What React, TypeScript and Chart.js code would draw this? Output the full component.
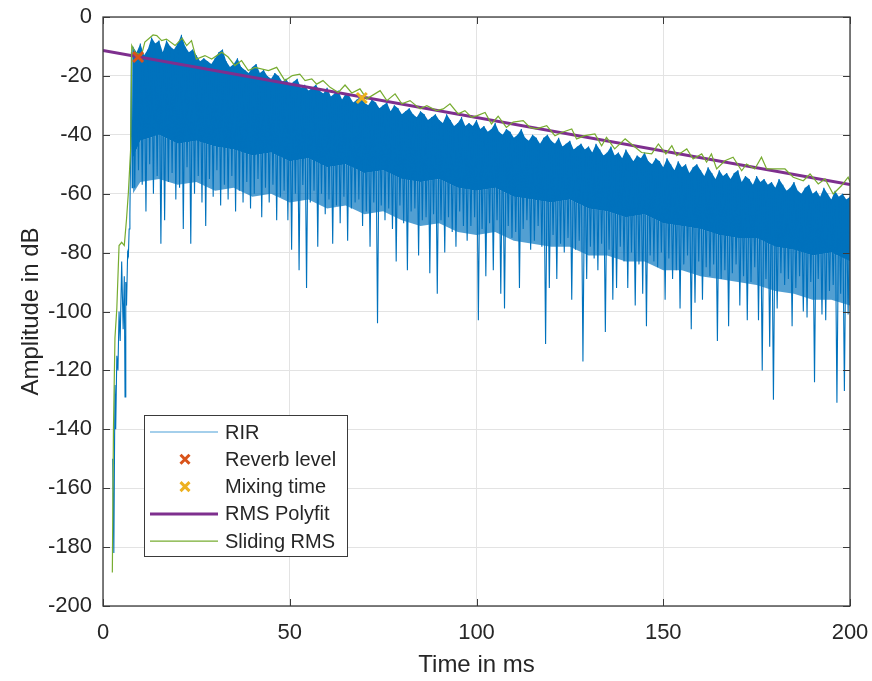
import React, { useEffect, useRef } from "react";
import { Chart, registerables } from "chart.js";

Chart.register(...registerables);

// ---------- axes ----------
const xTicks = [0, 50, 100, 150, 200];
const yTicks = [-200, -180, -160, -140, -120, -100, -80, -60, -40, -20, 0];

// ---------- RIR (dB) ----------
// onset portion (ms, dB)
const rirOnsetMs = [2.6, 2.9, 3.2, 3.4, 3.7, 4.0, 4.3, 4.6, 5.0, 5.2, 5.4, 5.7, 5.9, 6.1, 6.3, 6.6, 6.8, 7.0, 7.2, 7.4, 7.6, 7.8];
const rirOnsetDb = [-150, -182, -125, -140, -115, -120, -100, -110, -83, -95, -106, -88, -129, -90, -98, -80, -81, -72, -67, -45, -12, -58];
// decay portion: one peak and one trough per millisecond, starting at 8 ms
const rirDecayStartMs = 8;
const rirPeakDb = [
  -10, -12, -9, -13, -11, -7, -9, -8, -12, -8,
  -10, -11, -9, -6, -10, -12, -11, -13, -15, -14,
  -15, -16, -14, -12, -11, -15, -17, -16, -14, -17,
  -18, -19, -17, -16, -19, -18, -20, -21, -19, -20,
  -22, -21, -23, -22, -21, -24, -23, -25, -24, -23,
  -25, -26, -24, -27, -26, -25, -28, -26, -27, -29,
  -28, -27, -29, -30, -28, -29, -31, -30, -29, -32,
  -30, -31, -33, -32, -31, -33, -34, -32, -33, -35,
  -34, -33, -35, -36, -33, -35, -37, -36, -34, -37,
  -36, -37, -35, -38, -37, -39, -38, -36, -39, -40,
  -38, -39, -41, -40, -38, -41, -42, -40, -41, -43,
  -41, -40, -42, -43, -41, -44, -43, -42, -45, -44,
  -43, -45, -44, -46, -43, -45, -47, -46, -44, -47,
  -46, -48, -45, -47, -49, -47, -48, -46, -49, -50,
  -48, -49, -51, -48, -50, -52, -49, -51, -50, -53,
  -51, -50, -52, -54, -51, -53, -55, -52, -54, -53,
  -55, -53, -52, -56, -54, -55, -57, -54, -56, -55,
  -57, -56, -58, -55, -57, -59, -58, -56, -59, -60,
  -58, -57, -60, -59, -61, -58, -60, -62, -59, -61,
  -60, -62, -61,
];
const rirTroughDb = [
  -58, -52, -57, -66, -50, -60, -54, -77, -69, -56,
  -53, -62, -58, -72, -51, -77, -60, -54, -63, -71,
  -55, -61, -52, -64, -57, -62, -54, -66, -59, -63,
  -56, -65, -60, -55, -68, -58, -63, -57, -69, -61,
  -59, -69, -79, -60, -86, -57, -92, -63, -59, -78,
  -60, -67, -62, -77, -64, -70, -61, -76, -65, -63,
  -62, -71, -66, -78, -63, -104, -64, -69, -65, -72,
  -83, -64, -70, -86, -66, -65, -81, -69, -68, -87,
  -67, -94, -69, -80, -68, -73, -78, -66, -71, -76,
  -71, -68, -103, -72, -88, -70, -86, -69, -94, -99,
  -71, -75, -73, -92, -72, -69, -79, -76, -71, -78,
  -111, -92, -74, -89, -77, -80, -75, -96, -79, -76,
  -117, -89, -78, -82, -86, -77, -107, -79, -96, -92,
  -78, -83, -92, -80, -98, -84, -94, -105, -81, -83,
  -85, -80, -96, -82, -89, -86, -99, -84, -81, -106,
  -97, -83, -96, -85, -88, -84, -110, -89, -86, -105,
  -87, -84, -98, -88, -103, -90, -85, -103, -120, -89,
  -112, -130, -99, -87, -91, -89, -105, -92, -88, -100,
  -102, -90, -124, -89, -101, -103, -93, -91, -131, -94,
  -127, -101, -92,
];
// lower edge of the solid part of the RIR, and of the less dense fringe under it
const rirEdgeMs = [8, 10, 15, 20, 25, 30, 35, 40, 45, 50, 55, 60, 65, 70, 75, 80, 85, 90, 95, 100, 105, 110, 115, 120, 125, 130, 135, 140, 145, 150, 155, 160, 165, 170, 175, 180, 185, 190, 195, 200];
const rirCoreDb = [-48, -42, -40, -43, -42, -44, -45, -47, -46, -49, -48, -51, -50, -53, -52, -55, -56, -55, -58, -59, -58, -61, -62, -63, -62, -65, -66, -68, -67, -70, -71, -72, -74, -75, -75, -78, -79, -81, -80, -83];
const rirFringeDb = [-60, -56, -55, -57, -56, -59, -58, -61, -60, -63, -62, -65, -64, -67, -66, -69, -71, -70, -73, -74, -73, -76, -77, -78, -78, -81, -81, -83, -83, -86, -86, -88, -89, -90, -91, -93, -94, -96, -96, -98];

// ---------- markers ----------
const reverbLevelMs = [9.4];
const reverbLevelDb = [-13.6];
const mixingTimeMs = [69.3];
const mixingTimeDb = [-27.5];

// ---------- RMS polyfit ----------
const polyfitMs = [0, 200];
const polyfitDb = [-11.4, -56.9];

// ---------- Sliding RMS ----------
const slidingMs = [2.5, 2.8, 3.2, 3.7, 4.3, 5.0, 5.7, 6.3, 6.8, 7.4, 7.7, 8.6, 10.3, 11.2, 13.4, 14.4, 15.7, 17, 19.3, 21.2, 22.4, 23.7, 25, 27.3, 29.1, 31.8, 33.5, 35.3, 37.1, 38.9, 40.7, 44.3, 46.5, 48.7, 50.7, 52.7, 54.1, 55.9, 57.2, 58.9, 60.8, 63, 64.8, 66.6, 68.8, 70.6, 74.2, 76, 78.2, 80, 82.2, 84.9, 86.7, 89.3, 91.1, 92.9, 95.1, 96.9, 98.7, 100.2, 102.3, 104, 105.8, 108, 109.8, 112.5, 114.3, 116, 118.8, 121, 122.8, 125.5, 126.8, 129, 131.7, 133.5, 134.8, 137, 139.8, 142, 144.2, 146.9, 148.7, 150.7, 152.3, 153.6, 156.3, 158, 160.3, 161.6, 162.9, 164.3, 166.5, 168.7, 171, 172.3, 174.5, 176.3, 177.7, 179.9, 182.6, 184.8, 187.5, 189.3, 191.5, 193.3, 195.5, 197.7, 199.5, 200];
const slidingDb = [-188.6, -140, -109, -99, -77.6, -76.5, -77.6, -68.6, -59.5, -44.8, -9.7, -12, -13, -8.5, -6.1, -6.3, -8, -7.5, -9.7, -7.2, -9.7, -8, -14.3, -13.1, -14.3, -12, -13.6, -16.5, -14.8, -18.2, -17.1, -18.2, -17.1, -21.6, -19.9, -19.4, -21.6, -21, -22.8, -21.6, -23.9, -25.6, -23.1, -25.8, -24.4, -27.8, -25, -28.4, -26.1, -29.5, -28.4, -31.2, -30.1, -31.8, -31.2, -29.5, -32.9, -31.8, -34.1, -33.5, -32.4, -36.3, -33.7, -37.5, -35.7, -35.2, -37.5, -38, -36.9, -40.3, -39.2, -38, -41.4, -40.3, -39.7, -43.7, -40.9, -44.8, -41.4, -43.7, -46, -46.5, -43.1, -46.5, -43.7, -47.1, -44.8, -48.2, -46.5, -49.3, -46.5, -51.6, -48.8, -47.6, -52.2, -49.9, -51.6, -47.6, -51.6, -51.6, -51.6, -54.4, -55.6, -53.3, -56.7, -55, -60.1, -57.3, -54.4, -56];

const FONT = "'Liberation Sans', Arial, Helvetica, sans-serif";
const TEXT = "#262626";
const RIR_BLUE = "#0072BD";

function pairs(xs: number[], ys: number[]) {
  return xs.map((x, i) => ({ x, y: ys[i] }));
}

function rirPoints() {
  const pts = pairs(rirOnsetMs, rirOnsetDb);
  rirPeakDb.forEach((v, i) => {
    pts.push({ x: rirDecayStartMs + i, y: v });
    pts.push({ x: rirDecayStartMs + i + 0.5, y: rirTroughDb[i] });
  });
  return pts;
}

function rirPeakPoints() {
  return rirPeakDb.map((v, i) => ({ x: rirDecayStartMs + i, y: v }));
}

const framePlugin = {
  id: "frame",
  afterDatasetsDraw(chart: any) {
    const { ctx, chartArea: ca, scales } = chart;
    const L = 7;
    ctx.save();
    ctx.strokeStyle = "#3a3a3a";
    ctx.lineWidth = 1;
    ctx.beginPath();
    xTicks.forEach((v) => {
      const px = Math.round(scales.x.getPixelForValue(v)) + 0.5;
      ctx.moveTo(px, ca.bottom);
      ctx.lineTo(px, ca.bottom - L);
      ctx.moveTo(px, ca.top);
      ctx.lineTo(px, ca.top + L);
    });
    yTicks.forEach((v) => {
      const py = Math.round(scales.y.getPixelForValue(v)) + 0.5;
      ctx.moveTo(ca.left, py);
      ctx.lineTo(ca.left + L, py);
      ctx.moveTo(ca.right, py);
      ctx.lineTo(ca.right - L, py);
    });
    ctx.stroke();
    ctx.lineWidth = 1.3;
    ctx.strokeRect(ca.left, ca.top, ca.right - ca.left, ca.bottom - ca.top);
    ctx.restore();
  },
};

const legendPlugin = {
  id: "boxLegend",
  afterDraw(chart: any) {
    const { ctx, chartArea: ca } = chart;
    const x0 = ca.left + 41;
    const y0 = ca.top + 398;
    const w = 203;
    const h = 141;
    ctx.save();
    ctx.fillStyle = "#ffffff";
    ctx.fillRect(x0, y0, w, h);
    ctx.strokeStyle = "#3a3a3a";
    ctx.lineWidth = 1;
    ctx.strokeRect(x0 + 0.5, y0 + 0.5, w, h);
    const items = chart.data.datasets.filter((d: any) => d.label);
    items.forEach((d: any, i: number) => {
      const y = y0 + 17 + i * 27.3;
      if (d.showLine === false) {
        const cx = x0 + 41;
        const r = 4.5;
        ctx.strokeStyle = d.borderColor;
        ctx.lineWidth = 3;
        ctx.beginPath();
        ctx.moveTo(cx - r, y - r);
        ctx.lineTo(cx + r, y + r);
        ctx.moveTo(cx + r, y - r);
        ctx.lineTo(cx - r, y + r);
        ctx.stroke();
      } else {
        ctx.strokeStyle = d.legendColor || d.borderColor;
        ctx.lineWidth = d.borderWidth;
        ctx.beginPath();
        ctx.moveTo(x0 + 6, y);
        ctx.lineTo(x0 + 74, y);
        ctx.stroke();
      }
      ctx.fillStyle = TEXT;
      ctx.font = `20px ${FONT}`;
      ctx.textBaseline = "middle";
      ctx.textAlign = "left";
      ctx.fillText(d.label, x0 + 81, y + 1);
    });
    ctx.restore();
  },
};

export default function App() {
  const ref = useRef<HTMLCanvasElement | null>(null);
  useEffect(() => {
    if (!ref.current) return;
    Chart.defaults.font.family = FONT;
    const chart = new Chart(ref.current, {
      type: "line",
      data: {
        datasets: [
          {
            label: "RIR",
            data: rirPoints(),
            borderColor: RIR_BLUE,
            legendColor: "#4a9fd8",
            borderWidth: 1.1,
            pointRadius: 0,
            order: 10,
          } as any,
          {
            label: "Reverb level",
            data: pairs(reverbLevelMs, reverbLevelDb),
            showLine: false,
            borderColor: "#D95319",
            backgroundColor: "#D95319",
            pointStyle: "crossRot",
            pointRadius: 7,
            pointBorderWidth: 3,
            order: 2,
          },
          {
            label: "Mixing time",
            data: pairs(mixingTimeMs, mixingTimeDb),
            showLine: false,
            borderColor: "#EDB120",
            backgroundColor: "#EDB120",
            pointStyle: "crossRot",
            pointRadius: 7,
            pointBorderWidth: 3,
            order: 1,
          },
          {
            label: "RMS Polyfit",
            data: pairs(polyfitMs, polyfitDb),
            borderColor: "#7E2F8E",
            borderWidth: 3,
            pointRadius: 0,
            order: 8,
          },
          {
            label: "Sliding RMS",
            data: pairs(slidingMs, slidingDb),
            borderColor: "#77AC30",
            borderWidth: 1.2,
            pointRadius: 0,
            order: 6,
          },
          {
            // solid body of the RIR: between the peaks and the solid lower edge
            data: rirPeakPoints(),
            borderWidth: 0,
            borderColor: RIR_BLUE,
            backgroundColor: RIR_BLUE,
            pointRadius: 0,
            fill: "+1",
            order: 12,
          },
          {
            // less dense fringe under the solid body
            data: pairs(rirEdgeMs, rirCoreDb),
            borderWidth: 0,
            borderColor: RIR_BLUE,
            backgroundColor: "rgba(0,114,189,0.68)",
            pointRadius: 0,
            fill: "+1",
            order: 13,
          },
          {
            data: pairs(rirEdgeMs, rirFringeDb),
            borderWidth: 0,
            borderColor: RIR_BLUE,
            pointRadius: 0,
            fill: false,
            order: 14,
          },
        ],
      },
      options: {
        animation: false,
        responsive: false,
        events: [],
        layout: { padding: { left: 0, top: 17, right: 22, bottom: 0 } },
        plugins: { legend: { display: false }, tooltip: { enabled: false } },
        scales: {
          x: {
            type: "linear",
            min: 0,
            max: 200,
            afterBuildTicks: (s: any) => {
              s.ticks = xTicks.map((v) => ({ value: v }));
            },
            afterFit: (s: any) => {
              s.height = 75;
              s.paddingLeft = 0;
              s.paddingRight = 0;
            },
            grid: { color: "#e3e3e3", lineWidth: 1, drawTicks: false },
            border: { display: false },
            ticks: { color: TEXT, font: { size: 22 }, padding: 14, maxRotation: 0 },
            title: {
              display: true,
              text: "Time in ms",
              color: TEXT,
              font: { size: 24 },
              padding: { top: 0, bottom: 1 },
            },
          },
          y: {
            type: "linear",
            min: -200,
            max: 0,
            afterBuildTicks: (s: any) => {
              s.ticks = yTicks.map((v) => ({ value: v }));
            },
            afterFit: (s: any) => {
              s.width = 103;
              s.paddingTop = 0;
              s.paddingBottom = 0;
            },
            grid: { color: "#e3e3e3", lineWidth: 1, drawTicks: false },
            border: { display: false },
            ticks: { color: TEXT, font: { size: 22 }, padding: 11 },
            title: {
              display: true,
              text: "Amplitude in dB",
              color: TEXT,
              font: { size: 24 },
              padding: { top: 17, bottom: 0 },
            },
          },
        },
      },
      plugins: [framePlugin, legendPlugin],
    } as any);
    return () => chart.destroy();
  }, []);
  return (
    <div style={{ position: "fixed", left: 0, top: 0, width: 872, height: 681, background: "#fff" }}>
      <canvas ref={ref} width={872} height={681} style={{ width: 872, height: 681, display: "block" }} />
    </div>
  );
}
